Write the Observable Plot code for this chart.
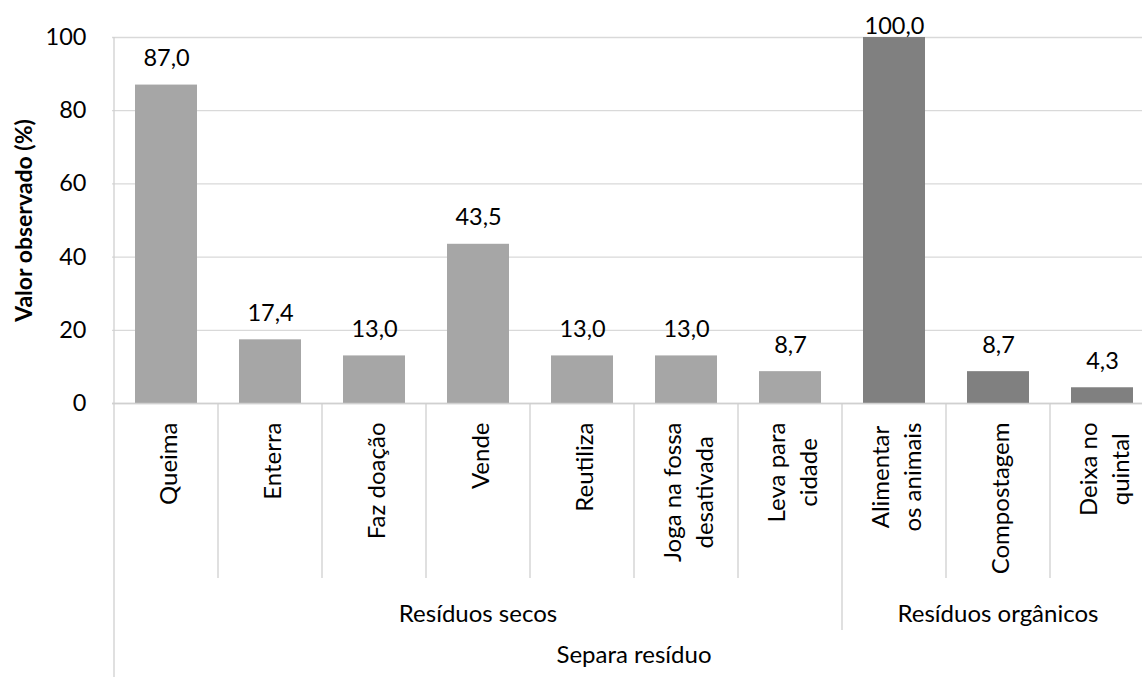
<!DOCTYPE html>
<html><head><meta charset="utf-8">
<script src="https://cdn.jsdelivr.net/npm/d3@7"></script>
<script src="https://cdn.jsdelivr.net/npm/@observablehq/plot@0.6"></script>
<style>
html,body{margin:0;padding:0;background:#fff;overflow:hidden}
</style></head><body><div id="chart"></div>
<script>
const categories = ["Queima","Enterra","Faz doação","Vende","Reutiliza","Joga na fossa\ndesativada","Leva para\ncidade","Alimentar\nos animais","Compostagem","Deixa no\nquintal"];
const values = [87.0, 17.4, 13.0, 43.5, 13.0, 13.0, 8.7, 100.0, 8.7, 4.3];
const groups = ["Resíduos secos","Resíduos secos","Resíduos secos","Resíduos secos","Resíduos secos","Resíduos secos","Resíduos secos","Resíduos orgânicos","Resíduos orgânicos","Resíduos orgânicos"];
const groupNames = ["Resíduos secos","Resíduos orgânicos"];
const groupColors = ["#a6a6a6","#808080"];
const outerLabel = "Separa resíduo";
const yTicks = [0, 20, 40, 60, 80, 100];
const yLabel = "Valor observado (%)";

const data = categories.map((c, i) => ({category: c, value: values[i], group: groups[i]}));
const fmt = v => d3.format(".1f")(v).replace(".", ",");
const FONT = "Lato, 'Open Sans', sans-serif";
const LINE = "#d0d0d0";
const CAT_SIZE = 24;

// measure label widths so multi-line labels are centred like the reference
const ctx = document.createElement("canvas").getContext("2d");
ctx.font = `${CAT_SIZE}px Lato, 'Open Sans', sans-serif`;
const maxLineWidth = c => d3.max(c.split("\n"), s => ctx.measureText(s).width);

function decorations(index, scales, channels, dims) {
  const x = scales.x, y = scales.y;
  const bw = typeof x.bandwidth === "function" ? x.bandwidth() : x.bandwidth;
  const step = x(categories[1]) - x(categories[0]);
  const gap = (step - bw) / 2;
  const left = c => x(c) - gap;
  const right = c => x(c) + bw + gap;
  const y0 = dims.height - dims.marginBottom;
  const g = d3.create("svg:g");
  const line = (xx, ya, yb) => g.append("line").attr("x1", xx).attr("x2", xx).attr("y1", ya).attr("y2", yb)
    .attr("stroke", LINE).attr("stroke-width", 1.3);
  line(left(categories[0]), y(100), dims.height);
  categories.forEach((c, i) => {
    if (i === 0) return;
    const newGroup = groups[i] !== groups[i - 1];
    line(left(c), y0, y0 + (newGroup ? 227 : 175));
  });
  line(right(categories[categories.length - 1]), y0, y0 + 227);
  groupNames.forEach(name => {
    const cats = categories.filter((c, i) => groups[i] === name);
    const cx = (left(cats[0]) + right(cats[cats.length - 1])) / 2;
    g.append("text").attr("x", cx).attr("y", y0 + 219).attr("text-anchor", "middle")
      .attr("font-size", CAT_SIZE).attr("fill", "#000").text(name);
  });
  const cxAll = (left(categories[0]) + right(categories[categories.length - 1])) / 2;
  g.append("text").attr("x", cxAll).attr("y", y0 + 260).attr("text-anchor", "middle")
    .attr("font-size", CAT_SIZE).attr("fill", "#000").text(outerLabel);
  return g.node();
}

const catMarks = categories.map(c =>
  Plot.text([c], {x: d => d, frameAnchor: "bottom", rotate: -90, textAnchor: "middle", lineAnchor: "middle",
    dy: 19 + maxLineWidth(c) / 2, lineHeight: 1.35, fontSize: CAT_SIZE, fill: "#000"}));

const chart = Plot.plot({
  width: 1142,
  height: 677,
  marginLeft: 112,
  marginTop: 37,
  marginBottom: 274,
  marginRight: 0,
  style: {fontFamily: FONT, fontSize: "23px", color: "#000", background: "#fff", overflow: "hidden"},
  x: {domain: categories, range: [112, 1155.5], paddingInner: 0.4, paddingOuter: 0.2, axis: null},
  y: {domain: [0, 100], label: null},
  color: {domain: groupNames, range: groupColors},
  marks: [
    Plot.gridY(yTicks, {stroke: "#d9d9d9", strokeOpacity: 1, strokeWidth: 1.3}),
    Plot.barY(data, {x: "category", y: "value", fill: "group"}),
    Plot.ruleY([0], {stroke: LINE, strokeWidth: 1.3}),
    Plot.axisY(yTicks, {tickSize: 0, tickPadding: 26, fontSize: 23.5, label: null, tickFormat: d => String(d), fill: "#000"}),
    Plot.text([yLabel], {frameAnchor: "left", rotate: -90, textAnchor: "middle", dx: -88, fontWeight: "bold", fontSize: 23, fill: "#000"}),
    Plot.text(data.filter(d => d.value < 95), {x: "category", y: "value", text: d => fmt(d.value), lineAnchor: "bottom", dy: -19, fontSize: 23.5, fill: "#000"}),
    Plot.text(data.filter(d => d.value >= 95), {x: "category", y: "value", text: d => fmt(d.value), lineAnchor: "bottom", dy: -4, fontSize: 23.5, fill: "#000"}),
    ...catMarks,
    decorations
  ]
});
document.getElementById("chart").appendChild(chart);
</script>
</body></html>
